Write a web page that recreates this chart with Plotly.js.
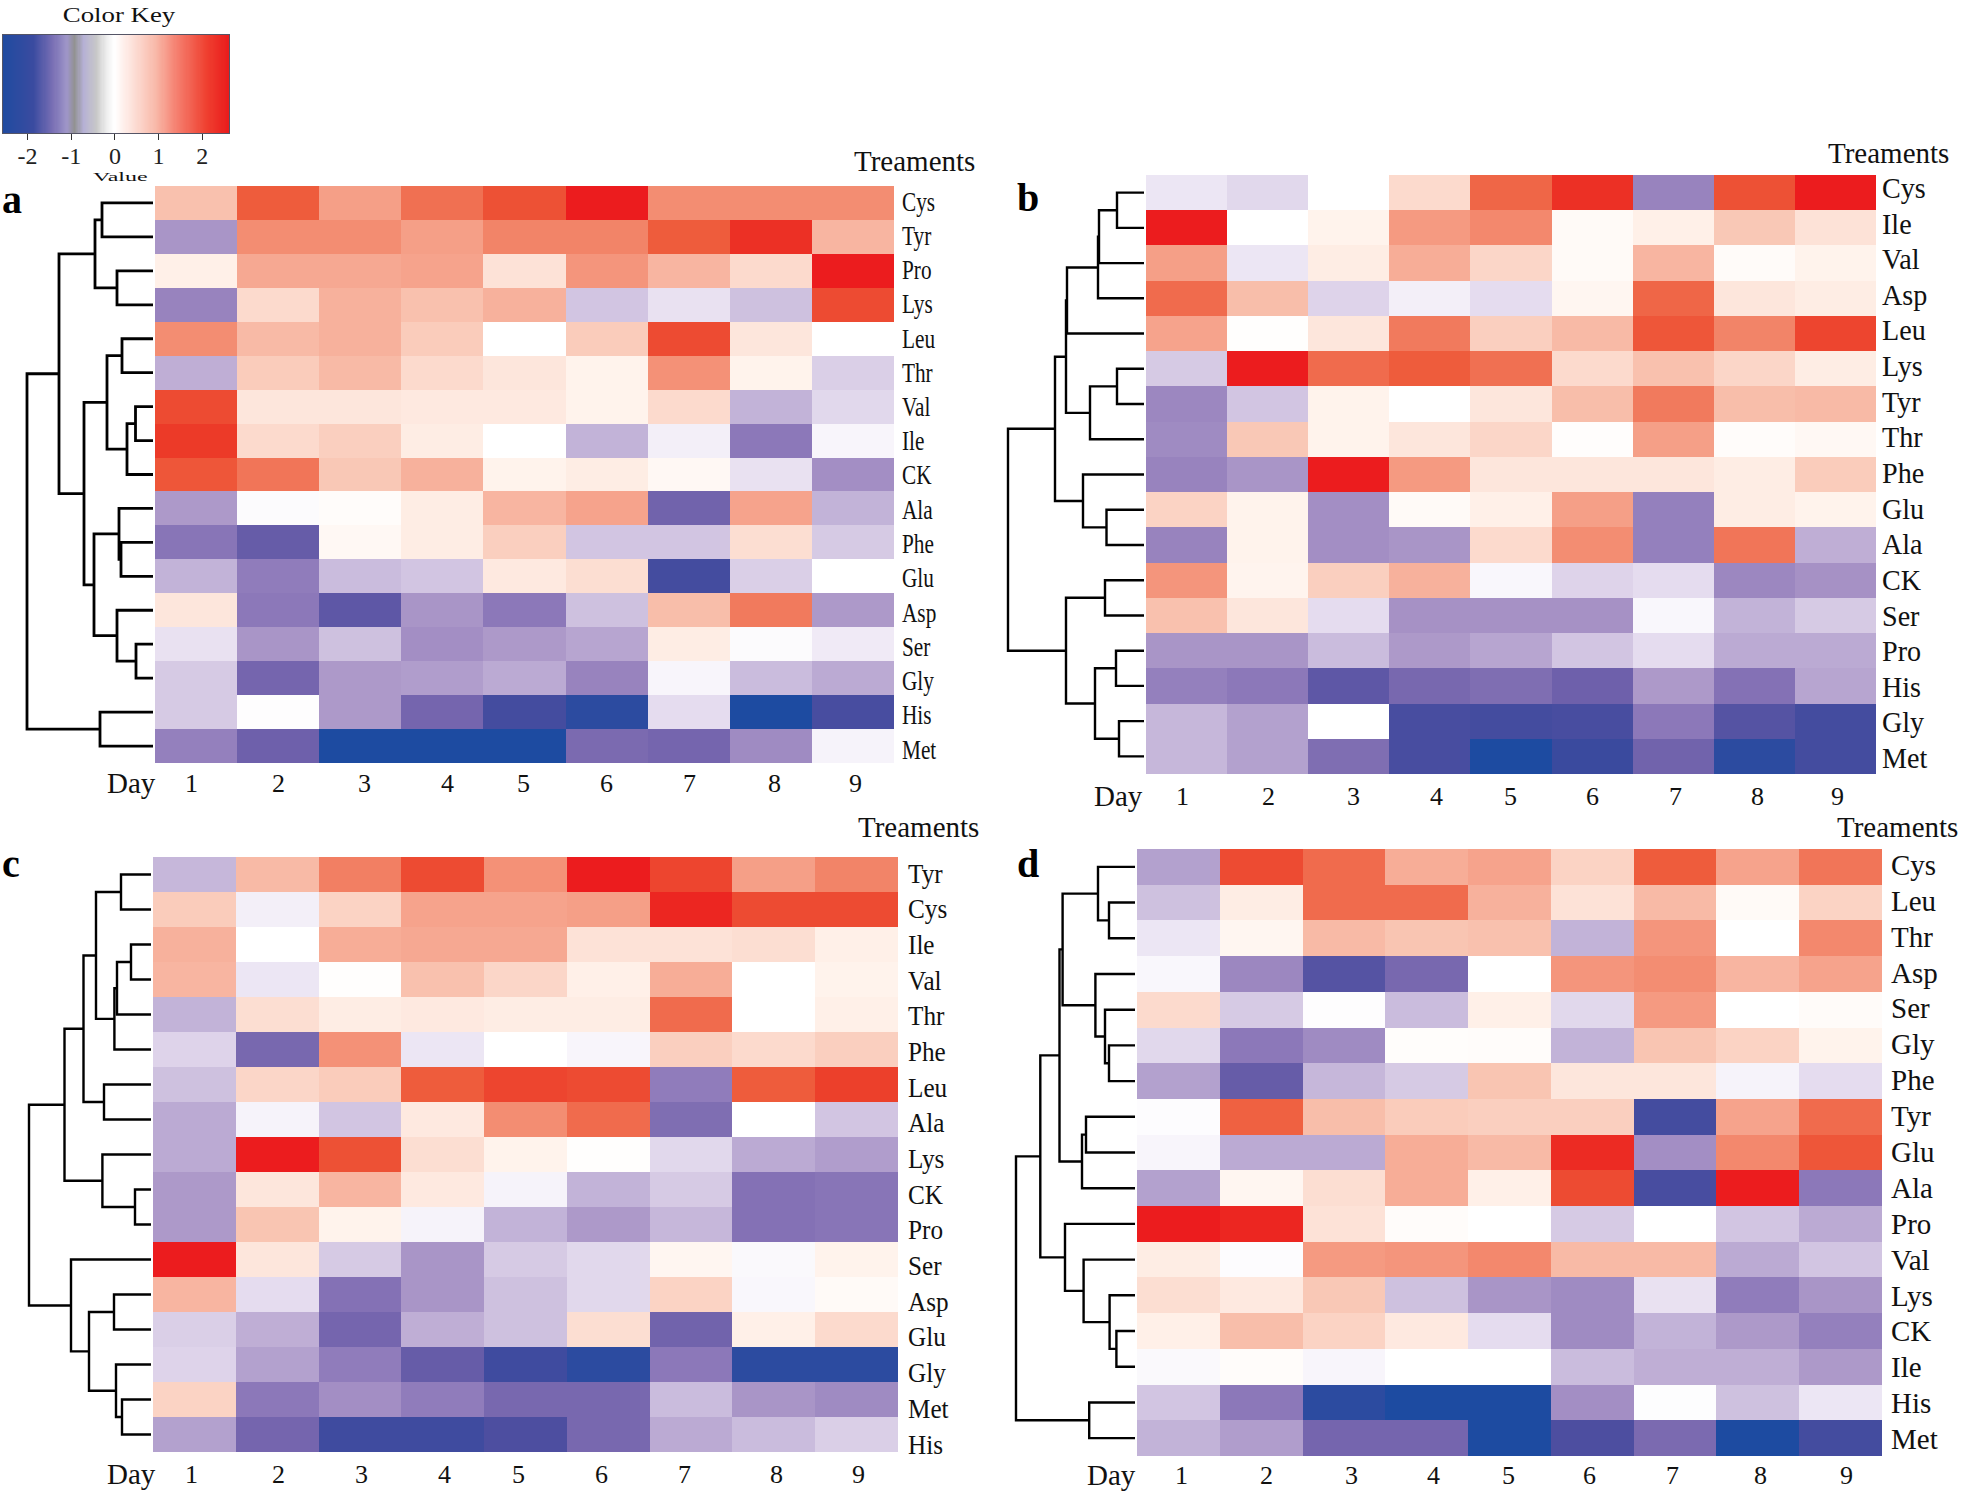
<!DOCTYPE html>
<html><head><meta charset="utf-8">
<script src="https://cdn.plot.ly/plotly-3.0.1.min.js"></script>
<style>html,body{margin:0;padding:0;background:#fff}</style></head>
<body><div id="chart" style="width:1961px;height:1494px"></div>
<script>
// ---------- data ----------
const days = [1,2,3,4,5,6,7,8,9];
const dayLabels = ['1','2','3','4','5','6','7','8','9'];

const rowsA = ['Cys','Tyr','Pro','Lys','Leu','Thr','Val','Ile','CK','Ala','Phe','Glu','Asp','Ser','Gly','His','Met'];
const valuesA = [
[0.9,2.0,1.3,1.8,2.1,2.6,1.5,1.5,1.5],
[-1.2,1.5,1.5,1.3,1.6,1.6,2.0,2.4,1.05],
[0.25,1.2,1.2,1.25,0.45,1.4,1.05,0.55,2.6],
[-1.45,0.55,1.1,0.9,1.1,-0.65,-0.35,-0.7,2.15],
[1.5,1.0,1.1,0.75,0,0.75,2.15,0.4,0],
[-0.9,0.75,1.0,0.55,0.4,0.2,1.45,0.2,-0.55],
[2.15,0.4,0.4,0.35,0.35,0.2,0.55,-0.85,-0.45],
[2.3,0.55,0.7,0.3,0,-0.85,-0.2,-1.6,-0.12],
[2.05,1.75,0.8,1.1,0.2,0.3,0.12,-0.35,-1.3],
[-1.15,-0.05,0.05,0.3,1.05,1.25,-1.95,1.25,-0.85],
[-1.65,-2.05,0.12,0.3,0.7,-0.65,-0.65,0.5,-0.6],
[-0.85,-1.55,-0.75,-0.65,0.35,0.5,-2.3,-0.55,0],
[0.4,-1.6,-2.1,-1.2,-1.6,-0.7,0.95,1.7,-1.15],
[-0.35,-1.2,-0.7,-1.3,-1.15,-1.0,0.3,-0.05,-0.25],
[-0.6,-1.9,-1.15,-1.1,-0.95,-1.45,-0.12,-0.75,-0.95],
[-0.6,-0.02,-1.15,-1.9,-2.3,-2.5,-0.4,-2.6,-2.25],
[-1.5,-2.0,-2.6,-2.6,-2.6,-1.8,-1.9,-1.35,-0.15]];
const treeA = [126,[94,[58,[51,0,1],[36,2,3]],[69,[46,[31,4,5],[26,[17.5,6,7],8]],[59,[34,9,[32,10,11]],[36,12,[17,13,14]]]]],[53,15,16]];

const rowsB = ['Cys','Ile','Val','Asp','Leu','Lys','Tyr','Thr','Phe','Glu','Ala','CK','Ser','Pro','His','Gly','Met'];
const valuesB = [
[-0.3,-0.45,0,0.55,1.9,2.4,-1.45,2.1,2.6],
[2.6,0,0.2,1.35,1.55,0.08,0.25,0.8,0.45],
[1.3,-0.3,0.3,1.15,0.6,0.08,1.05,0.06,0.2],
[1.85,0.95,-0.5,-0.2,-0.4,0.15,1.9,0.4,0.3],
[1.25,0.02,0.4,1.7,0.7,1.0,2.05,1.6,2.2],
[-0.6,2.6,1.85,2.0,1.8,0.55,0.9,0.6,0.3],
[-1.4,-0.65,0.2,0,0.4,0.95,1.7,0.95,1.0],
[-1.35,0.8,0.2,0.4,0.6,0.03,1.3,0.05,0.12],
[-1.45,-1.2,2.6,1.35,0.4,0.4,0.4,0.3,0.75],
[0.65,0.2,-1.3,0.08,0.25,1.3,-1.5,0.3,0.2],
[-1.45,0.2,-1.3,-1.2,0.55,1.5,-1.5,1.75,-0.9],
[1.4,0.18,0.7,1.1,-0.1,-0.5,-0.4,-1.4,-1.25],
[0.9,0.4,-0.4,-1.25,-1.25,-1.25,-0.1,-0.85,-0.6],
[-1.2,-1.2,-0.75,-1.15,-1.0,-0.65,-0.4,-0.95,-0.95],
[-1.5,-1.6,-2.1,-1.85,-1.75,-2.0,-1.15,-1.7,-1.0],
[-0.8,-1.05,0,-2.25,-2.3,-2.25,-1.6,-2.15,-2.3],
[-0.8,-1.05,-1.75,-2.25,-2.6,-2.4,-1.95,-2.5,-2.3]];
const treeB = [136,[89,[78,[77,[46,[45,[27,0,1],2],3],4],[54,[27,5,6],7]],[61,8,[37.5,9,10]]],[78,[39,11,12],[49,[28,13,14],[25,15,16]]]];

const rowsC = ['Tyr','Cys','Ile','Val','Thr','Phe','Leu','Ala','Lys','CK','Pro','Ser','Asp','Glu','Gly','Met','His'];
const valuesC = [
[-0.8,1.0,1.65,2.15,1.45,2.6,2.2,1.3,1.6],
[0.75,-0.2,0.65,1.25,1.25,1.3,2.5,2.15,2.15],
[1.1,0,1.15,1.2,1.2,0.45,0.45,0.5,0.25],
[1.05,-0.3,0.02,0.9,0.6,0.25,1.15,0,0.2],
[-0.85,0.5,0.3,0.35,0.3,0.3,1.85,0,0.25],
[-0.5,-1.85,1.45,-0.3,0,-0.12,0.7,0.55,0.7],
[-0.7,0.6,0.75,2.0,2.2,2.15,-1.55,2.0,2.25],
[-0.95,-0.15,-0.65,0.35,1.5,1.85,-1.75,0,-0.65],
[-0.95,2.6,2.1,0.5,0.2,0.02,-0.45,-0.95,-1.1],
[-1.15,0.4,1.05,0.35,-0.15,-0.85,-0.6,-1.7,-1.65],
[-1.15,0.85,0.2,-0.15,-0.85,-1.15,-0.8,-1.7,-1.65],
[2.6,0.4,-0.6,-1.2,-0.6,-0.45,0.15,-0.08,0.2],
[1.05,-0.4,-1.7,-1.2,-0.7,-0.45,0.65,-0.1,0.08],
[-0.55,-0.9,-1.9,-0.9,-0.7,0.5,-1.95,0.25,0.55],
[-0.5,-1.05,-1.55,-2.05,-2.35,-2.5,-1.6,-2.5,-2.5],
[0.65,-1.6,-1.3,-1.55,-1.85,-1.85,-0.75,-1.2,-1.35],
[-1.05,-1.9,-2.35,-2.35,-2.2,-1.85,-0.95,-0.75,-0.55]];
const treeC = [122,[86.5,[67.5,[55,[30,0,1],[36.6,[34,[20,2,3],4],5]],[47,6,7]],[48.6,8,[16,9,10]]],[80,11,[62,[37,12,13],[35,14,[29,15,16]]]]];

const rowsD = ['Cys','Leu','Thr','Asp','Ser','Gly','Phe','Tyr','Glu','Ala','Pro','Val','Lys','CK','Ile','His','Met'];
const valuesD = [
[-1.05,2.15,1.85,1.15,1.25,0.65,2.0,1.25,1.75],
[-0.7,0.3,1.85,1.85,1.1,0.45,1.0,0.08,0.65],
[-0.3,0.15,1.0,0.85,0.9,-0.85,1.4,0,1.55],
[-0.1,-1.4,-2.15,-1.85,0,1.4,1.5,1.05,1.25],
[0.55,-0.6,-0.02,-0.75,0.25,-0.45,1.35,0,0.06],
[-0.45,-1.6,-1.35,0.04,0.05,-0.85,0.85,0.65,0.2],
[-1.05,-2.05,-0.8,-0.6,0.85,0.4,0.4,-0.15,-0.4],
[-0.04,1.95,0.95,0.75,0.7,0.7,-2.3,1.25,1.85],
[-0.12,-0.95,-0.95,1.15,1.0,2.45,-1.3,1.55,2.05],
[-1.05,0.15,0.5,1.15,0.25,2.15,-2.25,2.6,-1.6],
[2.6,2.5,0.45,0.05,0,-0.6,0,-0.65,-0.95],
[0.3,-0.04,1.35,1.4,1.55,1.0,1.0,-0.95,-0.65],
[0.5,0.35,0.8,-0.7,-1.2,-1.35,-0.35,-1.55,-1.2],
[0.25,0.95,0.65,0.35,-0.4,-1.35,-0.85,-1.15,-1.5],
[-0.08,0.05,-0.12,0,0,-0.75,-0.9,-0.9,-1.15],
[-0.65,-1.6,-2.5,-2.6,-2.6,-1.3,-0.03,-0.7,-0.3],
[-0.85,-1.1,-1.9,-1.9,-2.6,-2.2,-1.8,-2.6,-2.3]];
const treeD = [119,[94.7,[75.5,[72.4,[37,0,[26,1,2]],[39.6,3,[30,4,[26,5,6]]]],[53,[49,7,8],9]],[70,10,[51.4,11,[25.4,12,[18.6,13,14]]]]],[45.8,15,16]];

// colour scale of the heat cells
const heatStops = [-2.6,-2.4,-2.2,-2.0,-1.8,-1.6,-1.4,-1.2,-1.0,-0.8,-0.6,-0.4,-0.2,0,0.2,0.4,0.6,0.8,1.0,1.2,1.4,1.6,1.8,2.0,2.3,2.6];
const heatColors = ['#1d4ba1','#3a4a9e','#4d4ea0','#6e60ab','#7b6ab0','#8c78b9','#9c87c0','#a995c7','#b7a5d0','#c6b7da','#d6cae4','#e5dcef','#f3eff8','#ffffff','#fff3ec','#fde6dc','#fbd6c8','#f9c8b6','#f8baa6','#f6a892','#f4957c','#f28468','#f07052','#ee5c3c','#ec3a28','#ec1c1e'];
// colour key (with its grey bands)
const keyStops = [-2.57,-1.87,-1.41,-1.1,-0.92,-0.72,-0.42,-0.19,-0.01,0.42,0.95,1.41,2.1,2.6];
const keyColors = ['#1f4ba0','#3a4ba0','#7a70b5','#9e95c8','#929292','#b5b0d5','#c8c8c8','#eeeeee','#ffffff','#fde0d8','#f8b8a8','#f58070','#ef4030','#ea1c1c'];
const keyValues = [];
for (let i = 0; i <= 207; i++) keyValues.push(-2.57 + i * 0.025);
const keyTicks = [-2,-1,0,1,2];
const keyTickText = ['-2','-1','0','1','2'];

// ---------- page geometry (pixels) ----------
const W = 1961, H = 1494;
const X = p => p / W, Y = p => 1 - p / H;
const FONT = '"Liberation Serif","Times New Roman",serif';

const panels = [
 {tag:'a',rows:rowsA,vals:valuesA,tree:treeA,box:[155,894,186,763],lab:[12,199],treat:[914,161],rowX:900,rowY:[201,749],rowSize:28,rowScale:0.76,
  dayY:783,dayX:131,dx:[191,278,364,447,523,606,689,774,855],lw:2.8},
 {tag:'b',rows:rowsB,vals:valuesB,tree:treeB,box:[1146,1876,175,774],lab:[1028,198],treat:[1888,153],rowX:1880,rowY:[188,758],rowSize:29,rowScale:0.97,
  dayY:796,dayX:1118,dx:[1182,1268,1353,1436,1510,1592,1675,1757,1837],lw:2.4},
 {tag:'c',rows:rowsC,vals:valuesC,tree:treeC,box:[153,898,857,1452],lab:[11,863],treat:[918,827],rowX:906,rowY:[873,1444],rowSize:28,rowScale:0.9,
  dayY:1474,dayX:131,dx:[191,278,361,444,518,601,684,776,858],lw:2.4},
 {tag:'d',rows:rowsD,vals:valuesD,tree:treeD,box:[1137,1882,849,1456],lab:[1028,863],treat:[1897,827],rowX:1889,rowY:[865,1439],rowSize:29,rowScale:1,
  dayY:1475,dayX:1111,dx:[1181,1266,1351,1433,1508,1589,1672,1760,1846],lw:2.4}
];

function scaleOf(stops, colors){
  const a = stops[0], b = stops[stops.length-1];
  return stops.map((s,i)=>[(s-a)/(b-a), colors[i]]);
}
function dendro(node){
  const xs=[], ys=[];
  (function walk(n){
    if (typeof n === 'number') return {h:0, y:n};
    const l = walk(n[1]), r = walk(n[2]);
    xs.push(l.h, n[0], n[0], r.h, null);
    ys.push(l.y, l.y, r.y, r.y, null);
    return {h:n[0], y:(l.y+r.y)/2};
  })(node);
  return {xs, ys};
}

const traces = [];
const layout = {
  width:W, height:H, margin:{l:0,r:0,t:0,b:0}, paper_bgcolor:'#fff', plot_bgcolor:'#fff',
  showlegend:false, annotations:[], font:{family:FONT,color:'#111'}
};
const squeeze = [];
function note(text,x,y,size,opt){
  layout.annotations.push(Object.assign({text:String(text),x:X(x),y:Y(y),xref:'paper',yref:'paper',showarrow:false,
    xanchor:'center',yanchor:'middle',font:{family:FONT,size:size,color:'#111'}},opt||{}));
}

// colour key
traces.push({type:'heatmap',x:keyValues,y:[0],z:[keyValues],xaxis:'x',yaxis:'y',zmin:-2.57,zmax:2.6,
  colorscale:scaleOf(keyStops,keyColors),showscale:false,hoverinfo:'skip'});
layout.xaxis = {domain:[X(3),X(229)],range:[-2.56,2.61],tickmode:'array',tickvals:keyTicks,ticktext:keyTickText,
  ticks:'outside',ticklen:6,tickwidth:1,tickcolor:'#333',tickfont:{family:FONT,size:24,color:'#222'},ticklabelstandoff:-5,
  showline:true,linecolor:'#556',linewidth:1,mirror:true,showgrid:false,zeroline:false,anchor:'y'};
layout.yaxis = {domain:[Y(133),Y(35)],range:[-0.5,0.5],showticklabels:false,ticks:'',showline:true,linecolor:'#556',linewidth:1,mirror:true,showgrid:false,zeroline:false,anchor:'x'};
squeeze.push([layout.annotations.length,'scaleX(1.22)','50% 50%']);
note('Color Key',119,14,22);
squeeze.push([layout.annotations.length,'scale(1,0.55)','50% 50%']);
note('Value',120,177,24);

panels.forEach((p,k)=>{
  const hx = 'x'+(2*k+2), dx = 'x'+(2*k+3), yy = 'y'+(k+2);
  const [l,r,t,b] = p.box;
  traces.push({type:'heatmap',x:days,y:p.rows.map((_,i)=>i),z:p.vals,xaxis:hx,yaxis:yy,
    zmin:-2.6,zmax:2.6,colorscale:scaleOf(heatStops,heatColors),showscale:false,xgap:0,ygap:0,
    text:p.vals.map((row,i)=>row.map(()=>p.rows[i])),hovertemplate:'%{text} day %{x}: %{z}<extra></extra>'});
  const d = dendro(p.tree);
  traces.push({type:'scatter',mode:'lines',x:d.xs,y:d.ys,xaxis:dx,yaxis:yy,connectgaps:false,
    line:{color:'#000',width:p.lw,shape:'linear'},hoverinfo:'skip'});
  const hAxis = {domain:[X(l),X(r)],range:[0.5,9.5],showticklabels:false,ticks:'',showgrid:false,zeroline:false,showline:false,anchor:yy};
  const top = p.tree[0]+3, end = l-2;
  const dAxis = {domain:[X(end-top),X(end)],range:[top,0],visible:false,showgrid:false,zeroline:false,anchor:yy};
  layout['xaxis'+(2*k+2)] = hAxis;
  layout['xaxis'+(2*k+3)] = dAxis;
  layout['yaxis'+(k+2)] = {domain:[Y(b),Y(t)],range:[16.5,-0.5],showticklabels:false,ticks:'',showgrid:false,zeroline:false,showline:false,anchor:hx};
  // panel letter, header, row and day labels
  note(p.tag,p.lab[0],p.lab[1],40,{font:{family:FONT,size:40,color:'#000',weight:700}});
  note('Treaments',p.treat[0],p.treat[1],29);
  p.rows.forEach((name,i)=>{
    squeeze.push([layout.annotations.length,'scaleX('+p.rowScale+')','0% 50%']);
    note(name,p.rowX,p.rowY[0]+(p.rowY[1]-p.rowY[0])*i/16,p.rowSize,{xanchor:'left'});
  });
  note('Day',p.dayX,p.dayY,29);
  dayLabels.forEach((s,i)=>note(s,p.dx[i],p.dayY,26));
});

Plotly.newPlot('chart',traces,layout,{displayModeBar:false}).then(()=>{
  squeeze.forEach(([idx,tf,origin])=>{
    const g = document.querySelector('g.annotation[data-index="'+idx+'"] text');
    if(!g) return;
    g.style.transformBox='fill-box';
    g.style.transformOrigin=origin;
    g.style.transform=tf;
  });
});
</script></body></html>
